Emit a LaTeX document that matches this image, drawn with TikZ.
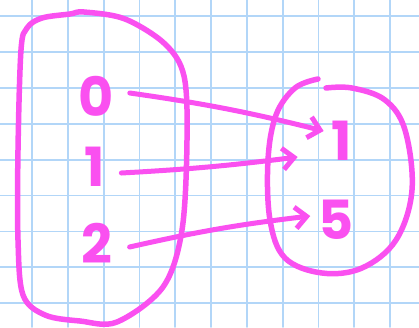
\documentclass[tikz,border=0pt]{standalone}
\usepackage{fontspec}
\setsansfont{Poppins}
\usepackage{tikz}
\usepackage{xcolor}
\usetikzlibrary{arrows.meta}
\definecolor{penpink}{RGB}{250,80,240}
\definecolor{gridblue}{RGB}{178,214,248}

\begin{document}
\begin{tikzpicture}[x=1pt, y=-1pt, line cap=round, line join=round,
    every node/.style={font=\sffamily\bfseries\fontsize{54}{54}\selectfont, text=penpink, inner sep=0pt},
    ink/.style={draw=penpink, line width=5.5pt},
    maparrow/.style={draw=penpink, line width=5pt, -{Straight Barb[length=4mm, width=7.5mm]}}]
    \useasboundingbox (0,0) rectangle (419,327);
    \fill[white] (0,0) rectangle (419,327);
    % squared paper
    \foreach \k in {0,...,10}
        \draw[gridblue, line width=1.8pt] (32+35.8*\k,0) -- (32+35.8*\k,327);
    \foreach \k in {0,...,8}
        \draw[gridblue, line width=1.8pt] (0,16+35.9*\k) -- (419,16+35.9*\k);

    % domain and codomain
    \draw[ink] plot[smooth cycle, tension=0.55] coordinates {(70,14) (42,18) (27,28) (21,50) (18,150) (18,240) (23,295) (45,315) (80,321) (117,322) (163,287) (182,230) (187,140) (184,76) (165,44) (125,19) (84,12)};
    \draw[ink] plot[smooth, tension=0.6] coordinates {(318,79) (295,88) (276,115) (268,160) (270,220) (285,258) (322,273) (362,268) (396,240) (412,190) (405,130) (385,100) (352,88) (326,88)};

    \node (a0) at (96,96) {0};
    \node (a1) at (95,167) {1};
    \node (a2) at (97,243) {2};
    \node (b1) at (342,141) {1};
    \node (b5) at (336,220) {5};

    \draw[maparrow] ([shift={(16,-3)}]a0.east) to[bend left=3] ([shift={(-8,-10)}]b1.west);
    \draw[maparrow] ([shift={(16,6)}]a1.east) to[bend right=2] ([shift={(-34,16)}]b1.west);
    \draw[maparrow] ([shift={(17,4)}]a2.east) to[bend left=3] ([shift={(-8,-4)}]b5.west);
\end{tikzpicture}
\end{document}
